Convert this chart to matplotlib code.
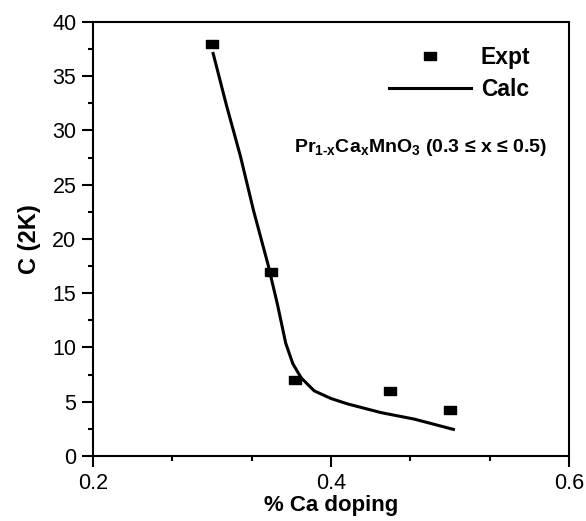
import numpy as np
import matplotlib.pyplot as plt
from matplotlib.ticker import MultipleLocator, AutoMinorLocator

plt.rcParams["font.family"] = ["Liberation Sans", "DejaVu Sans"]
plt.rcParams["mathtext.fontset"] = "custom"
plt.rcParams["mathtext.bf"] = "Liberation Sans:bold"
plt.rcParams["mathtext.rm"] = "Liberation Sans:bold"
plt.rcParams["mathtext.default"] = "bf"

# experimental points
x_expt = [0.30, 0.35, 0.37, 0.45, 0.50]
c_expt = [38.0, 17.0, 7.0, 6.0, 4.25]

# calculated curve
x_calc = [0.301, 0.312, 0.324, 0.335, 0.347, 0.355, 0.362, 0.368, 0.375,
          0.386, 0.400, 0.414, 0.442, 0.470, 0.503]
c_calc = [37.1, 32.4, 27.6, 22.6, 17.7, 14.0, 10.4, 8.5, 7.2,
          6.0, 5.3, 4.8, 4.0, 3.4, 2.45]

# wide rectangle marker, like the original
rect = [(-1, -0.68), (1, -0.68), (1, 0.68), (-1, 0.68), (-1, -0.68)]

fig = plt.figure(figsize=(5.86, 5.21), dpi=100)
ax = fig.add_axes([0.1587, 0.1248, 0.812, 0.833])

ax.plot(x_expt, c_expt, linestyle="none", marker=rect, color="black",
        markersize=8, label="Expt")
ax.plot(x_calc, c_calc, "-", color="black", linewidth=2.2, label="Calc")

ax.set_xlim(0.2, 0.6)
ax.set_ylim(0, 40)
ax.xaxis.set_major_locator(MultipleLocator(0.2))
ax.xaxis.set_minor_locator(AutoMinorLocator(3))
ax.yaxis.set_major_locator(MultipleLocator(5))
ax.yaxis.set_minor_locator(AutoMinorLocator(2))
ax.xaxis.set_major_formatter(plt.FuncFormatter(lambda v, p: f"{v:.1f}"))

ax.tick_params(which="major", direction="out", length=8, width=1.5,
               labelsize=15.5, pad=4)
ax.tick_params(which="minor", direction="out", length=3.5, width=1.5)
for s in ax.spines.values():
    s.set_linewidth(1.5)

ax.set_xlabel("% Ca doping", fontsize=16, fontweight="bold", labelpad=1)
ax.set_ylabel("C (2K)", fontsize=17, fontweight="bold", labelpad=8)

leg = ax.legend(loc="upper left", bbox_to_anchor=(0.622, 0.945), frameon=False,
                prop={"weight": "bold", "size": 16.5}, handlelength=3.57,
                handletextpad=0.43, labelspacing=0.38, borderpad=0,
                borderaxespad=0)

ax.text(0.422, 0.71, r"Pr$_{1\text{-}x}$Ca$_x$MnO$_3$ (0.3 ≤ x ≤ 0.5)",
        transform=ax.transAxes, fontsize=14, fontweight="bold",
        ha="left", va="center")

fig.savefig("out.png", dpi=100)
